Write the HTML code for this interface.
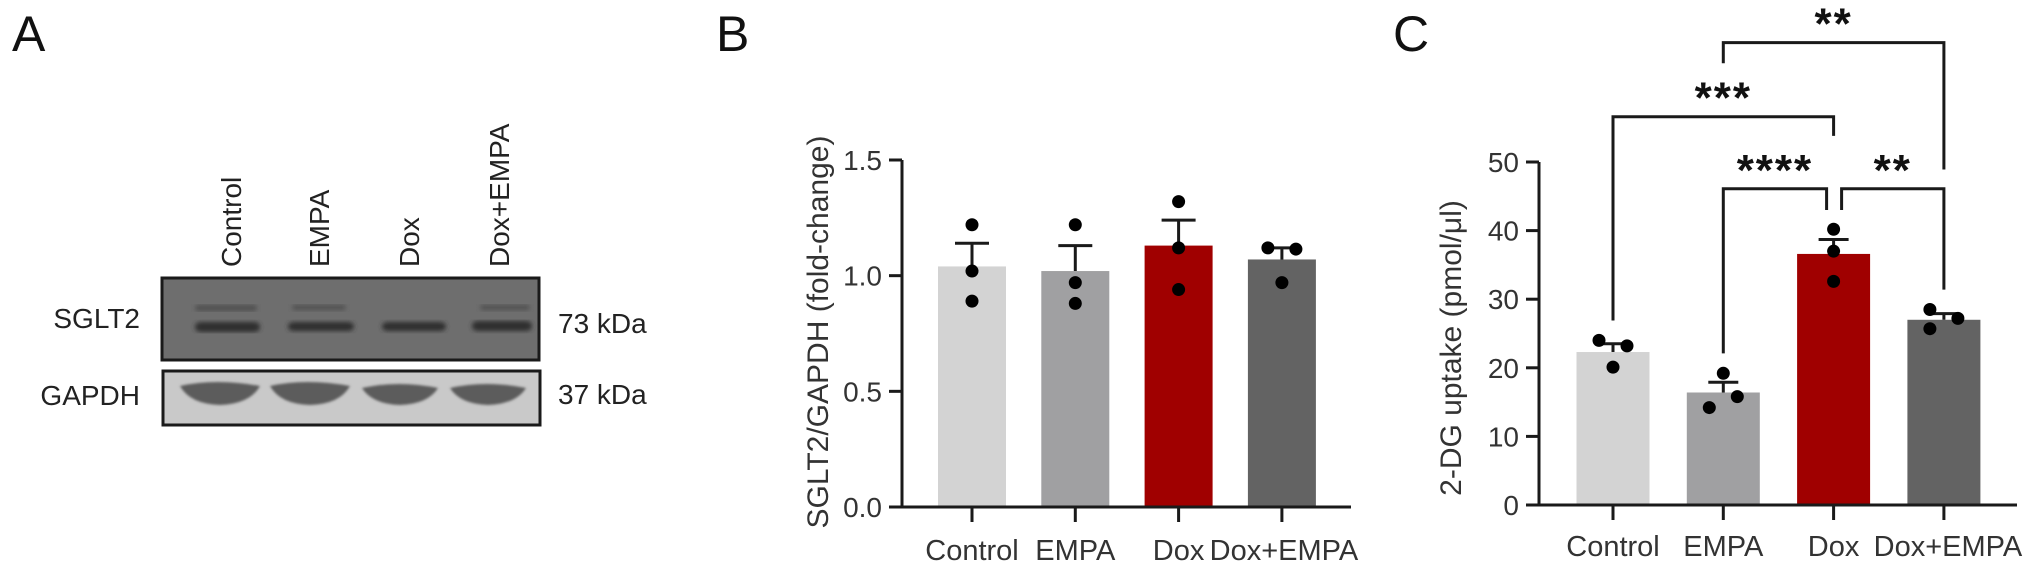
<!DOCTYPE html>
<html><head><meta charset="utf-8"><style>
html,body{margin:0;padding:0;background:#fff}
svg{display:block;font-family:"Liberation Sans",Arial,sans-serif}
</style></head><body>
<svg id="fig" width="2032" height="573" viewBox="0 0 2032 573" xmlns="http://www.w3.org/2000/svg">
<defs>
<filter id="blur2"><feGaussianBlur stdDeviation="2.5"/></filter>
<filter id="blur1"><feGaussianBlur stdDeviation="1.2"/></filter>
</defs>
<g>
<text x="12" y="51" font-size="50" fill="#111">A</text>
<g font-size="28" fill="#222">
<text transform="translate(241,267) rotate(-90)">Control</text>
<text transform="translate(329,267) rotate(-90)">EMPA</text>
<text transform="translate(419,267) rotate(-90)">Dox</text>
<text transform="translate(509,267) rotate(-90)">Dox+EMPA</text>
<text x="140" y="328" text-anchor="end">SGLT2</text>
<text x="140" y="405" text-anchor="end">GAPDH</text>
<text x="558" y="333">73 kDa</text>
<text x="558" y="404">37 kDa</text>
</g>
<g>
<rect x="162" y="278" width="377" height="82" fill="#6e6e6e" stroke="#1a1a1a" stroke-width="3"/>
<g filter="url(#blur2)" fill="#2e2e2e">
<rect x="195" y="322" width="65" height="10" rx="5"/>
<rect x="288" y="322" width="66" height="9" rx="5"/>
<rect x="382" y="322" width="64" height="9" rx="5"/>
<rect x="472" y="321" width="60" height="10" rx="5"/>
</g>
<g filter="url(#blur2)" fill="#505050">
<rect x="195" y="305" width="62" height="6" rx="3"/>
<rect x="292" y="305" width="54" height="5" rx="3"/>
<rect x="480" y="305" width="50" height="5" rx="3"/>
</g>
</g>
<g>
<rect x="163" y="371" width="377" height="54" fill="#c9c9c9" stroke="#1a1a1a" stroke-width="3"/>
<g filter="url(#blur1)" fill="#5c5c5c">
<path d="M180 386 Q216 378 260 386 Q250 404 220 405 Q190 404 180 386Z"/>
<path d="M270 386 Q306 378 350 386 Q340 404 310 405 Q280 404 270 386Z"/>
<path d="M362 388 Q398 380 438 388 Q428 404 400 405 Q372 404 362 388Z"/>
<path d="M450 388 Q486 380 526 388 Q516 404 488 405 Q460 404 450 388Z"/>
</g>
</g>
</g>
<g id="pb">
<text x="716" y="51" font-size="50" fill="#111">B</text>
</g>
<g id="pc">
<text x="1393" y="51" font-size="50" fill="#111">C</text>
</g>
</svg>
<script>
const categories = ["Control","EMPA","Dox","Dox+EMPA"];
const barColors = ["#d3d3d3","#a0a0a2","#a00000","#636363"];
// Panel B data
const bMeans = [1.04, 1.02, 1.13, 1.07];
const bErrTop = [1.14, 1.13, 1.24, 1.12];
const bDots = [[1.22,1.02,0.89],[1.22,0.97,0.88],[1.32,1.12,0.94],[1.12,1.115,0.97]];
const bDotJitter = [[0,0,0],[0,0,0],[0,0,0],[-1,1,0]];
const bTicks = [0.0, 0.5, 1.0, 1.5];
const bTickLabels = ["0.0","0.5","1.0","1.5"];
// Panel C data
const cMeans = [22.3, 16.4, 36.6, 27.0];
const cErrTop = [23.5, 17.9, 38.7, 27.9];
const cDots = [[24.0,23.2,20.1],[19.2,15.8,14.2],[40.2,37.0,32.6],[28.5,27.2,25.7]];
const cDotJitter = [[-1,1,0],[0,1,-1],[0,0,0],[-1,1,-1]];
const cTicks = [0,10,20,30,40,50];
const cTickLabels = ["0","10","20","30","40","50"];
// significance brackets: [fromCat, toCat, barY, leftLegEnd, rightLegEnd, label, leftShift, rightShift]
const cBrackets = [
  [1,3,67.4,64.4,48.9,"**",0,0],
  [0,2,56.6,26.9,53.8,"***",0,0],
  [1,2,46.1,22.1,43.0,"****",0,-7],
  [2,3,46.1,43.0,31.4,"**",8,0]
];
const NS="http://www.w3.org/2000/svg";
function mk(parent,tag,attrs){const e=document.createElementNS(NS,tag);for(const k in attrs)e.setAttribute(k,attrs[k]);parent.appendChild(e);return e;}

function drawPanel(g,cfg){
  const y=v=>cfg.y0-(v-cfg.vmin)/(cfg.vmax-cfg.vmin)*(cfg.y0-cfg.y1);
  const x=i=>cfg.x0+i*cfg.step;
  categories.forEach((c,i)=>{
    const b=mk(g,'rect',{x:x(i)-cfg.bw/2,y:y(cfg.means[i]),width:cfg.bw,height:cfg.y0-y(cfg.means[i]),fill:barColors[i]});
    
    
  });
  categories.forEach((c,i)=>{
    const e=mk(g,'path',{d:`M${x(i)} ${y(cfg.means[i])}V${y(cfg.err[i])}M${x(i)-cfg.cap/2} ${y(cfg.err[i])}H${x(i)+cfg.cap/2}`,stroke:'#1a1a1a','stroke-width':3,fill:'none'});
    
    
    cfg.dots[i].forEach((v,j)=>{
      const d=mk(g,'circle',{cx:x(i)+cfg.jit[i][j]*cfg.jx,cy:y(v),r:cfg.r,fill:'#000'});
      
      
    });
  });
  const ax=mk(g,'path',{d:`M${cfg.ax} ${y(cfg.vmax)}V${cfg.y0}H${cfg.xend}`,stroke:'#1a1a1a','stroke-width':3,fill:'none'});
  
  
  cfg.ticks.forEach((t,k)=>{
    mk(g,'path',{d:`M${cfg.ax-13} ${y(t)}H${cfg.ax}`,stroke:'#1a1a1a','stroke-width':3});
    const tl=mk(g,'text',{x:cfg.ax-20,y:y(t)+10,'text-anchor':'end','font-size':28,fill:'#333'});
    tl.textContent=cfg.tickLabels[k];
    
    
  });
  categories.forEach((c,i)=>{
    mk(g,'path',{d:`M${x(i)} ${cfg.y0}V${cfg.y0+15}`,stroke:'#1a1a1a','stroke-width':3});
    const t=mk(g,'text',{x:x(i)+(i==3?cfg.lastShift:0),y:cfg.labY,'text-anchor':'middle','font-size':29,fill:'#333'});
    t.textContent=c;
    
    
  });
  const yt=mk(g,'text',{transform:`translate(${cfg.titleX},${cfg.titleY}) rotate(-90)`,'text-anchor':'middle','font-size':30,fill:'#333'});
  yt.textContent=cfg.title;
  
  
  return {x,y};
}
drawPanel(document.getElementById('pb'),{vmin:0,vmax:1.5,y0:507,y1:160,x0:972,step:103.3,bw:68,cap:34,r:6.5,jx:14,
  means:bMeans,err:bErrTop,dots:bDots,jit:bDotJitter,ticks:bTicks,tickLabels:bTickLabels,ax:902,xend:1351,labY:560,lastShift:2,
  title:"SGLT2/GAPDH (fold-change)",titleX:828,titleY:332});
const pc=document.getElementById('pc');
const sc=drawPanel(pc,{vmin:0,vmax:50,y0:505,y1:162,x0:1613,step:110.3,bw:73,cap:30,r:6.5,jx:14,
  means:cMeans,err:cErrTop,dots:cDots,jit:cDotJitter,ticks:cTicks,tickLabels:cTickLabels,ax:1539,xend:2017,labY:556,lastShift:4,
  title:"2-DG uptake (pmol/\u03bcl)",titleX:1461,titleY:348});
cBrackets.forEach(b=>{
  const xa=sc.x(b[0])+b[6], xb=sc.x(b[1])+b[7];
  const p=mk(pc,'path',{d:`M${xa} ${sc.y(b[3])}V${sc.y(b[2])}H${xb}V${sc.y(b[4])}`,stroke:'#1a1a1a','stroke-width':3,fill:'none'});
  
  
  const t=mk(pc,'text',{x:(xa+xb)/2,y:sc.y(b[2])-4,'text-anchor':'middle','font-size':44,'font-weight':'bold','letter-spacing':'2',fill:'#111'});
  t.textContent=b[5];
  
  
});
</script>
</body></html>
